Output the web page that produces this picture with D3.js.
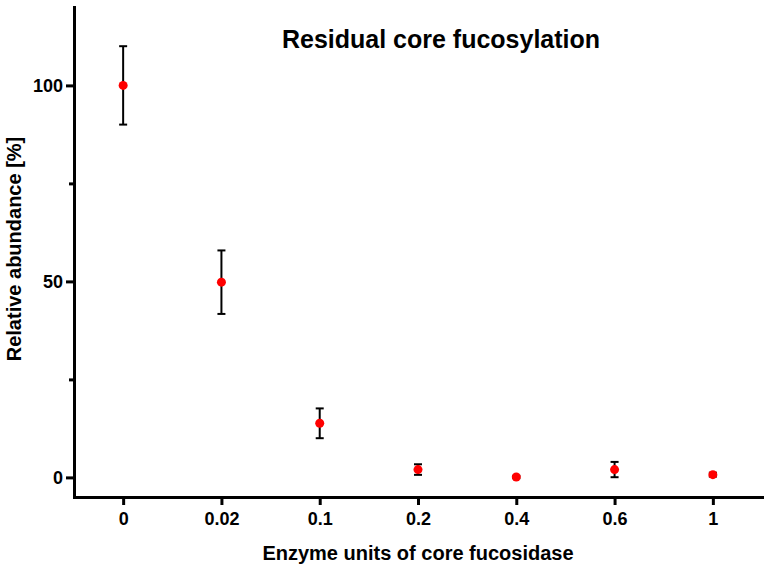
<!DOCTYPE html>
<html>
<head>
<meta charset="utf-8">
<script src="https://cdn.jsdelivr.net/npm/d3@7"></script>
<style>
  body { margin: 0; background: #fff; }
  svg { display: block; font-family: "Liberation Sans", Arial, sans-serif; font-weight: bold; }
  .axis path, .axis line { stroke: #000; stroke-width: 3; }
  .axis text { font-size: 18px; font-weight: bold; fill: #000; font-family: "Liberation Sans", Arial, sans-serif; }
</style>
</head>
<body>
<svg id="chart" width="765" height="570"></svg>
<script>
const doses = ["0", "0.02", "0.1", "0.2", "0.4", "0.6", "1"];
const abundance = [100, 49.8, 13.8, 2.0, 0.1, 2.0, 0.7];
const sd = [10, 8.1, 3.8, 1.35, 0.3, 1.95, 0.5];
const yTicks = [0, 50, 100];
const yMinorTicks = [25, 75];

const margin = { top: 7, right: 3, bottom: 73, left: 74 };
const W = 765, H = 570;
const width = W - margin.left - margin.right;
const height = H - margin.top - margin.bottom;

const svg = d3.select("#chart");
const g = svg.append("g").attr("transform", `translate(${margin.left},${margin.top})`);

const x = d3.scalePoint()
    .domain(doses)
    .range([0, width])
    .padding(0.5);

const y = d3.scaleLinear()
    .domain([-5, 120])
    .range([height, 0]);

// minor y ticks
g.append("g")
    .attr("class", "axis")
    .call(d3.axisLeft(y).tickValues(yMinorTicks).tickSize(5).tickSizeOuter(0).tickFormat(""))
    .call(s => s.select(".domain").remove());

const yAxis = g.append("g")
    .attr("class", "axis")
    .call(d3.axisLeft(y).tickValues(yTicks).tickSize(8).tickSizeOuter(0).tickPadding(3));
yAxis.select(".domain").attr("stroke-linecap", "square");

const xAxis = g.append("g")
    .attr("class", "axis")
    .attr("transform", `translate(0,${height})`)
    .call(d3.axisBottom(x).tickSize(8).tickSizeOuter(0).tickPadding(7));
xAxis.select(".domain").attr("stroke-linecap", "square");

// error bars
const bars = g.append("g")
    .selectAll("g")
    .data(doses.map((d, i) => ({ dose: d, v: abundance[i], e: sd[i] })))
    .enter()
    .append("g")
    .attr("stroke", "#000")
    .attr("stroke-width", 2);

const capW = 4;
bars.append("line")
    .attr("x1", d => x(d.dose)).attr("x2", d => x(d.dose))
    .attr("y1", d => y(d.v - d.e)).attr("y2", d => y(d.v + d.e));
bars.append("line")
    .attr("x1", d => x(d.dose) - capW).attr("x2", d => x(d.dose) + capW)
    .attr("y1", d => y(d.v + d.e)).attr("y2", d => y(d.v + d.e));
bars.append("line")
    .attr("x1", d => x(d.dose) - capW).attr("x2", d => x(d.dose) + capW)
    .attr("y1", d => y(d.v - d.e)).attr("y2", d => y(d.v - d.e));

// points
g.append("g")
    .selectAll("circle")
    .data(doses.map((d, i) => ({ dose: d, v: abundance[i] })))
    .enter()
    .append("circle")
    .attr("cx", d => x(d.dose))
    .attr("cy", d => y(d.v))
    .attr("r", 4.5)
    .attr("fill", "#f00");

// title and labels
svg.append("text")
    .attr("x", 441)
    .attr("y", 48)
    .attr("text-anchor", "middle")
    .attr("font-size", 25)
    .text("Residual core fucosylation");

svg.append("text")
    .attr("x", margin.left + width / 2)
    .attr("y", 560)
    .attr("text-anchor", "middle")
    .attr("font-size", 20)
    .text("Enzyme units of core fucosidase");

svg.append("text")
    .attr("transform", `translate(21,249) rotate(-90)`)
    .attr("text-anchor", "middle")
    .attr("font-size", 20)
    .text("Relative abundance [%]");
</script>
</body>
</html>
